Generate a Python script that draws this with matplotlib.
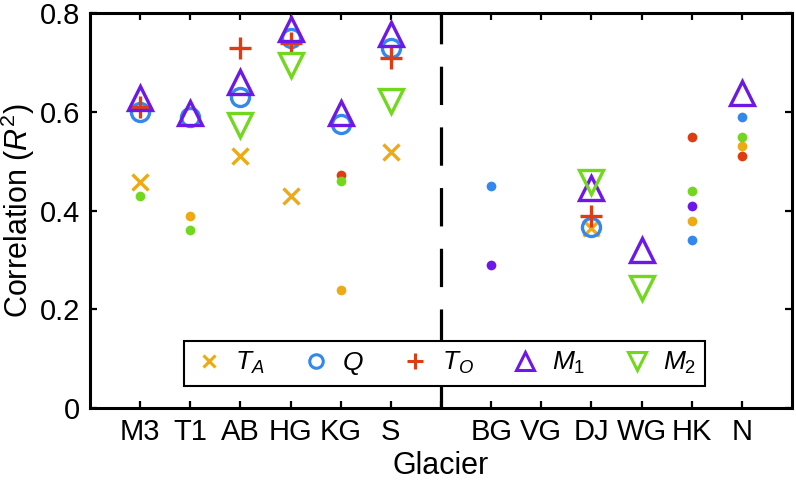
import numpy as np
import matplotlib.pyplot as plt
from matplotlib.lines import Line2D

plt.rcParams['font.family'] = ['Liberation Sans', 'DejaVu Sans']
plt.rcParams['mathtext.fontset'] = 'custom'
plt.rcParams['mathtext.rm'] = 'Liberation Sans'
plt.rcParams['mathtext.it'] = 'Liberation Sans:italic'

nan = np.nan
glaciers = ['M3', 'T1', 'AB', 'HG', 'KG', 'S', '', 'BG', 'VG', 'DJ', 'WG', 'HK', 'N']
xpos = np.arange(1, 14)

# values per glacier (position 7 is the divider), sig = 1 -> big marker, 0 -> small dot
ta = [0.457, 0.39, 0.51, 0.43, 0.239, 0.518, nan, nan, nan, 0.365, nan, 0.38, 0.53]
ta_sig = [1, 0, 1, 1, 0, 1, 0, 0, 0, 1, 0, 0, 0]
q = [0.60, 0.59, 0.63, 0.75, 0.575, 0.73, nan, 0.449, nan, 0.366, nan, 0.34, 0.59]
q_sig = [1, 1, 1, 1, 1, 1, 0, 0, 0, 1, 0, 0, 0]
to = [0.61, nan, 0.73, 0.74, 0.472, 0.71, nan, nan, nan, 0.39, nan, 0.55, 0.51]
to_sig = [1, 0, 1, 1, 0, 1, 0, 0, 0, 1, 0, 0, 0]
m1 = [0.628, 0.597, 0.66, 0.767, 0.597, 0.757, nan, 0.29, nan, 0.445, 0.32, 0.41, 0.638]
m1_sig = [1, 1, 1, 1, 1, 1, 0, 0, 0, 1, 1, 0, 1]
m2 = [0.43, 0.36, 0.573, 0.694, 0.46, 0.623, nan, nan, nan, 0.457, 0.243, 0.44, 0.55]
m2_sig = [0, 0, 1, 1, 0, 1, 0, 0, 0, 1, 1, 0, 0]

series = [
    ('$T_A$', ta, ta_sig, '#EDAA14', 'x', 11),
    ('$Q$', q, q_sig, '#3388EE', 'o', 13),
    ('$T_O$', to, to_sig, '#E03C12', '+', 16),
    ('$M_{\\mathit{1}}$', m1, m1_sig, '#6E18E6', '^', 17),
    ('$M_{\\mathit{2}}$', m2, m2_sig, '#72D81E', 'v', 17),
]

fig = plt.figure(figsize=(7.96, 4.87), dpi=100)
ax = fig.add_axes([0.113, 0.162, 0.882, 0.811])

handles = []
for label, vals, sig, col, mk, ms in series:
    vals = np.array(vals)
    sig = np.array(sig, dtype=bool)
    ax.plot(xpos[~sig], vals[~sig], 'o', color=col, ms=7, mec='none', zorder=2)
    fill = 'none' if mk in ('o', '^', 'v') else col
    ax.plot(xpos[sig], vals[sig], mk, color=col, ms=ms, mfc=fill, mew=2.4, zorder=3)
    handles.append(Line2D([], [], ls='none', marker=mk, color=col, mfc=fill,
                          ms=ms * 0.75, mew=2.2, label=label))

ax.plot([7, 7], [0, 0.8], color='black', lw=2.3, ls=(0, (12, 7)), zorder=1)

ax.set_xlim(0, 14)
ax.set_ylim(0, 0.8)
ax.set_xticks(xpos)
ax.set_xticklabels(glaciers)
ax.set_yticks([0, 0.2, 0.4, 0.6, 0.8])
ax.set_yticklabels(['0', '0.2', '0.4', '0.6', '0.8'])
ax.tick_params(direction='in', length=5, width=1.6, top=True, right=True,
               labelsize=21, pad=7)
for s in ax.spines.values():
    s.set_linewidth(2.2)

ax.set_xlabel('Glacier', fontsize=22, labelpad=4)
ax.set_ylabel('Correlation ($R^2$)', fontsize=22, labelpad=2)

leg = ax.legend(handles=handles, ncol=5, loc='lower center', bbox_to_anchor=(0.505, 0.056),
                borderaxespad=0, fontsize=19, frameon=True, fancybox=False,
                edgecolor='black', handletextpad=0.4, columnspacing=1.35,
                borderpad=0.35, handlelength=1.2)
leg.get_frame().set_linewidth(1.5)
leg.get_frame().set_alpha(1)

fig.savefig('out.png', dpi=100)
